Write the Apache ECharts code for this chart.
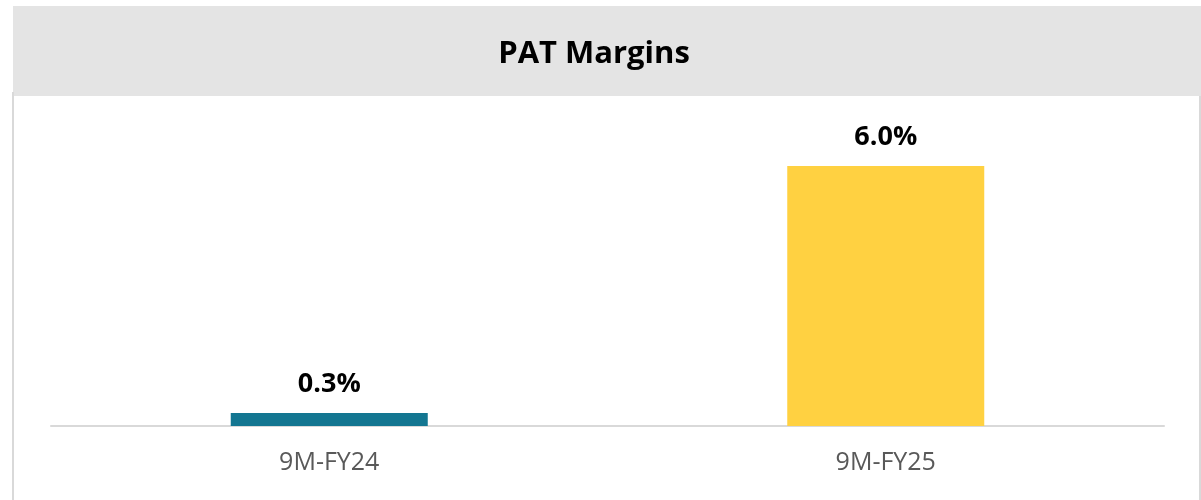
<!DOCTYPE html>
<html>
<head>
<meta charset="utf-8">
<script src="https://cdn.jsdelivr.net/npm/echarts@6/dist/echarts.min.js"></script>
<style>
html,body{margin:0;padding:0;background:#fff;}
#chart{width:1201px;height:500px;}
</style>
</head>
<body>
<div id="chart"></div>
<script>
const categories = ['9M-FY24', '9M-FY25'];
const patMargins = [0.3, 6.0];
const barColors = ['#137691', '#FFD141'];
const titleText = 'PAT Margins';

const chart = echarts.init(document.getElementById('chart'));
chart.setOption({
  animation: false,
  backgroundColor: '#ffffff',
  title: {
    text: titleText,
    left: 589,
    top: 34,
    textAlign: 'center',
    textStyle: { fontFamily: 'Open Sans', fontWeight: 'bold', fontSize: 31, color: '#000000' }
  },
  graphic: [
    { type: 'rect', z: -10, silent: true, shape: { x: 13, y: 6, width: 1188, height: 90 }, style: { fill: '#E4E4E4' } },
    { type: 'rect', z: -10, silent: true, shape: { x: 12, y: 92, width: 2, height: 408 }, style: { fill: '#D9D9D9' } },
    { type: 'rect', z: -10, silent: true, shape: { x: 1199, y: 96, width: 2, height: 404 }, style: { fill: '#D9D9D9' } }
  ],
  grid: { left: 51, right: 37, top: 166, bottom: 74, containLabel: false },
  xAxis: {
    type: 'category',
    data: categories,
    axisLine: { show: true, lineStyle: { color: '#D9D9D9', width: 2 } },
    axisTick: { show: false },
    axisLabel: { margin: 24, fontFamily: 'Open Sans', fontSize: 25, color: '#595959' }
  },
  yAxis: {
    type: 'value',
    min: 0,
    max: 6,
    show: false,
    splitLine: { show: false }
  },
  series: [{
    type: 'bar',
    barWidth: 197,
    data: patMargins.map((v, i) => ({ value: v, itemStyle: { color: barColors[i] } })),
    label: {
      show: true,
      position: 'top',
      distance: 15,
      formatter: p => p.value.toFixed(1) + '%',
      fontFamily: 'Open Sans',
      fontWeight: 'bold',
      fontSize: 27,
      color: '#000000'
    }
  }]
});
</script>
</body>
</html>
